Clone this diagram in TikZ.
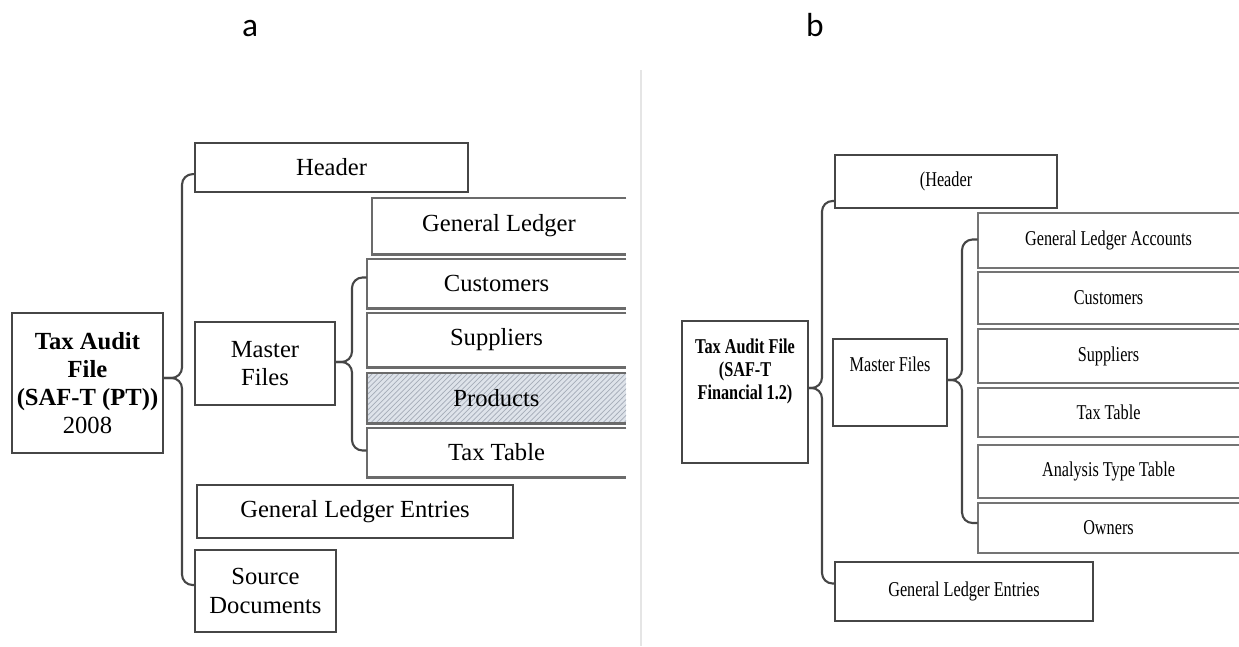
\documentclass[tikz,border=0pt]{standalone}
\usepackage{fontspec}
\setmainfont{Liberation Serif}
\newfontfamily\narrowfont{Liberation Serif}[FakeStretch=0.77]
\newfontfamily\panelfont{Carlito}
\usetikzlibrary{patterns}

\definecolor{framegray}{RGB}{70,70,70}
\definecolor{prodfill}{RGB}{222,227,234}
\definecolor{prodhatch}{RGB}{165,172,184}

\tikzset{
  dims/.style 2 args = {minimum width = #1*0.02cm, minimum height = #2*0.02cm},
  fontA/.style = {font=\fontsize{14}{16}\selectfont},
  fontB/.style = {font=\narrowfont\fontsize{12}{13}\selectfont},
  boxA/.style  = {draw = framegray, line width = 1.3pt, fontA, align = center, inner sep = 0pt},
  boxB/.style  = {draw = framegray, line width = 1.1pt, fontB, align = center, inner sep = 0pt},
  kidA/.style  = {fontA, inner sep = 0pt},
  kidB/.style  = {fontB, inner sep = 0pt},
  brace/.style = {draw = framegray, line width = 1.2pt, rounded corners = 6pt},
  panel/.style = {font = \panelfont\fontsize{19}{22}\selectfont, anchor = base, inner sep = 0pt},
}

\begin{document}
\begin{tikzpicture}[x = 0.02cm, y = -0.02cm]
	\useasboundingbox (0,0) rectangle (1239,646);
	% divider between the two panels
	\draw[black!10, line width = 0.6pt] (641,70) -- (641,646);
	\node[panel] (laba) at (250,36) {a};
	\node[panel] (labb) at (815,36) {b};

	% panel a
	\node[boxA, dims = {151}{140}] (taxA) at (87.5,383) {\textbf{Tax Audit}\\\textbf{File}\\\textbf{(SAF-T (PT))}\\2008};
	\node[boxA, dims = {273}{49}] (hdrA) at (331.5,167.5) {Header};
	\node[boxA, dims = {140}{83}] (mfA) at (265,363.5) {Master\\Files};
	\node[boxA, dims = {316}{53}] (gleA) at (355,511.5) {General Ledger Entries};
	\node[boxA, dims = {141}{82}] (srcA) at (265.5,591) {Source\\Documents};
	\node[kidA, dims = {254}{56}] (glA) at (499,226) {General Ledger};
	\node[kidA, dims = {259}{49}] (cuA) at (496.5,283.5) {Customers};
	\node[kidA, dims = {259}{54}] (suA) at (496.5,340) {Suppliers};
	\node[kidA, dims = {259}{50}, fill = prodfill,
		postaction = {pattern = north east lines, pattern color = prodhatch}] (prA) at (496.5,398) {Products};
	\node[kidA, dims = {259}{49}] (ttA) at (496.5,452.5) {Tax Table};
	\foreach \n in {glA, cuA, suA, prA, ttA}
		\draw[draw = framegray!80, line width = 1.3pt] (\n.north east) -- (\n.north west) -- (\n.south west) -- (\n.south east);

	\coordinate (ta) at (182,378);
	\coordinate (ma) at (352,362);
	\draw[brace] (hdrA.south west) ++(0,-19) -| (ta) -- (ta -| taxA.east);
	\draw[brace] (srcA.west) ++(0,-6) -| (ta) -- (ta -| taxA.east);
	\draw[brace] (cuA.west) ++(0,-6) -| (ma) -- (ma -| mfA.east);
	\draw[brace] (ttA.west) ++(0,-2) -| (ma) -- (ma -| mfA.east);

	% panel b
	\node[boxB, dims = {126}{142}] (taxB) at (745,392) {};
	\node[font = \narrowfont\bfseries\fontsize{12}{13}\selectfont, align = center, anchor = north, inner sep = 0pt] (taxBtxt) at (745,339) {Tax Audit File\\(SAF-T\\Financial 1.2)};
	\node[boxB, dims = {222}{53}] (hdrB) at (946,181.5) {(Header};
	\node[boxB, dims = {114}{87}] (mfB) at (890,382.5) {};
	\node[fontB, anchor = north, inner sep = 0pt] (mfBtxt) at (890,357) {Master Files};
	\node[boxB, dims = {258}{59}] (gleB) at (964,591.5) {General Ledger Entries};
	\node[kidB, dims = {261}{55}] (glaB) at (1108.5,240.5) {General Ledger Accounts};
	\node[kidB, dims = {261}{52}] (cuB) at (1108.5,298) {Customers};
	\node[kidB, dims = {261}{54}] (suB) at (1108.5,356) {Suppliers};
	\node[kidB, dims = {261}{49}] (ttB) at (1108.5,412.5) {Tax Table};
	\node[kidB, dims = {261}{53}] (atB) at (1108.5,471.5) {Analysis Type Table};
	\node[kidB, dims = {261}{50}] (owB) at (1108.5,528) {Owners};
	\foreach \n in {glaB, cuB, suB, ttB, atB, owB}
		\draw[draw = framegray!75, line width = 1.1pt] (\n.north east) -- (\n.north west) -- (\n.south west) -- (\n.south east);

	\coordinate (tb) at (822,388);
	\coordinate (mb) at (962,380);
	\draw[brace] (hdrB.south west) ++(0,-8) -| (tb) -- (tb -| taxB.east);
	\draw[brace] (gleB.west) ++(0,-8) -| (tb) -- (tb -| taxB.east);
	\draw[brace] (glaB.west) ++(0,-1) -| (mb) -- (mb -| mfB.east);
	\draw[brace] (owB.west) ++(0,-5) -| (mb) -- (mb -| mfB.east);
\end{tikzpicture}
\end{document}
